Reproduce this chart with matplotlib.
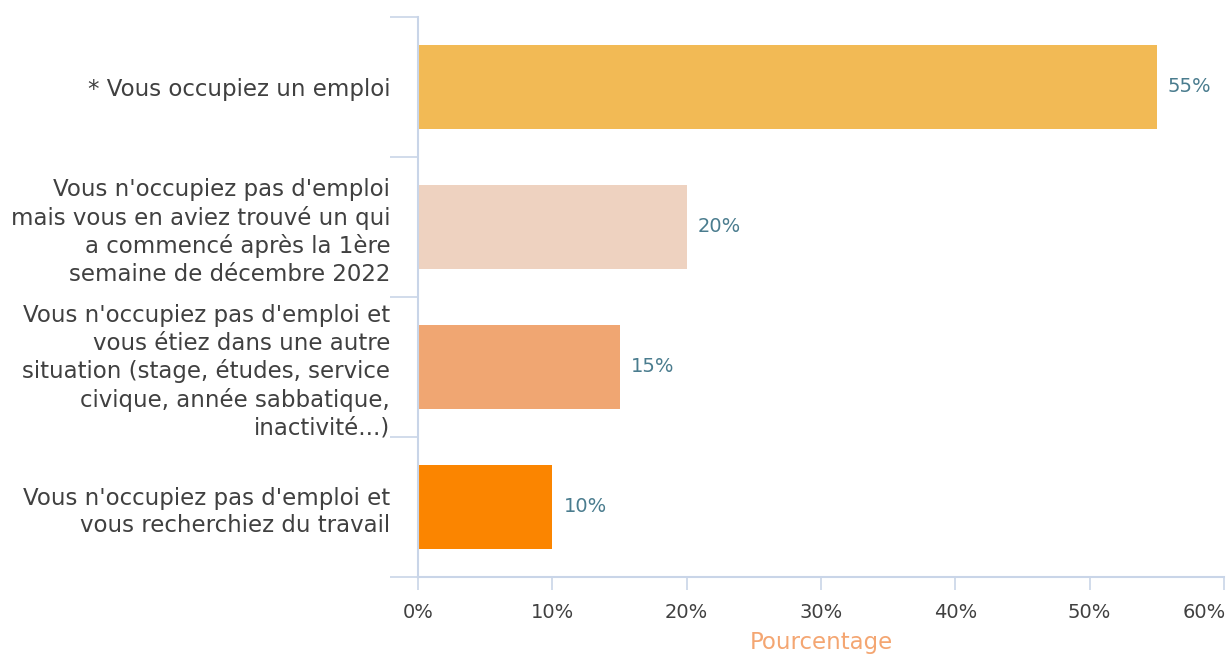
import matplotlib
matplotlib.use("Agg")
import matplotlib.pyplot as plt
import matplotlib.transforms as mtransforms
from matplotlib.ticker import FixedLocator, NullFormatter

categories = [
    "* Vous occupiez un emploi",
    "Vous n'occupiez pas d'emploi\nmais vous en aviez trouvé un qui\na commencé après la 1ère\nsemaine de décembre 2022",
    "Vous n'occupiez pas d'emploi et\nvous étiez dans une autre\nsituation (stage, études, service\ncivique, année sabbatique,\ninactivité...)",
    "Vous n'occupiez pas d'emploi et\nvous recherchiez du travail",
]
values = [55, 20, 15, 10]
value_labels = ["55%", "20%", "15%", "10%"]
bar_colors = ["#F2BA55", "#EED2C0", "#F0A672", "#FB8500"]
xticks = [0, 10, 20, 30, 40, 50, 60]
xtick_labels = ["0%", "10%", "20%", "30%", "40%", "50%", "60%"]
xlabel = "Pourcentage"

plt.rcParams['font.family'] = ['DejaVu Sans']

W, H = 1228, 657
fig = plt.figure(figsize=(W / 100, H / 100), dpi=100)
ax = fig.add_axes([418 / W, 1 - 577 / H, (1224 - 418) / W, (577 - 17) / H])

axis_col = "#C9D5E8"
pos = list(range(len(categories)))
ax.barh(pos, values, height=0.6, color=bar_colors, zorder=2)
ax.set_ylim(len(categories) - 0.5, -0.5)
ax.set_xlim(0, 60)

for p, v, lab in zip(pos, values, value_labels):
    ax.annotate(lab, (v, p), xytext=(8, 0), textcoords="offset points",
                va="center", ha="left", fontsize=14, color="#4A7C8E")

for s in ["top", "right"]:
    ax.spines[s].set_visible(False)
for s in ["left", "bottom"]:
    ax.spines[s].set_color(axis_col)
    ax.spines[s].set_linewidth(1.5)

ax.set_xticks(xticks)
ax.set_xticklabels(xtick_labels, fontsize=14, color="#404040")
ax.tick_params(axis="x", length=9, width=1.2, color=axis_col, pad=10)
last = ax.get_xticklabels()[-1]
last.set_transform(last.get_transform() + mtransforms.ScaledTranslation(-20 / 100, 0, fig.dpi_scale_trans))

ax.set_yticks(pos)
ax.set_yticklabels(categories, fontsize=16.5, color="#404040", linespacing=1.25)
ax.tick_params(axis="y", which="major", length=0, pad=20)
ax.yaxis.set_minor_locator(FixedLocator([-0.5, 0.5, 1.5, 2.5, 3.5]))
ax.yaxis.set_minor_formatter(NullFormatter())
ax.tick_params(axis="y", which="minor", length=20, width=1.2, color=axis_col)

ax.set_xlabel(xlabel, fontsize=16.5, color="#F4A672", labelpad=6)

fig.savefig("out.png", dpi=100, facecolor="white")
